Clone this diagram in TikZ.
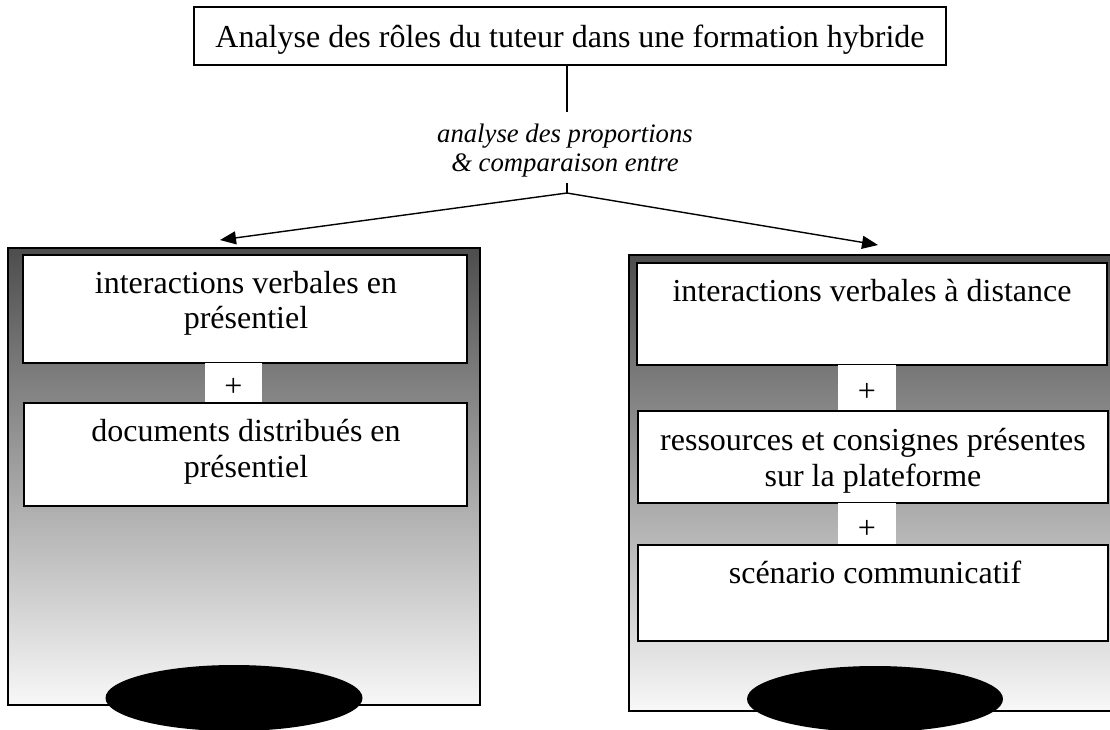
\documentclass[tikz,border=0pt]{standalone}
\usepackage{fontspec}
\setmainfont{Liberation Serif}
\usetikzlibrary{arrows.meta,shapes.geometric}
\definecolor{ptop}{RGB}{77,77,77}
\definecolor{pbot}{RGB}{248,248,248}
\tikzset{
  box/.style={draw=black, line width=1.6pt, fill=white, inner sep=0pt},
  txt/.style={anchor=base, inner sep=0pt, font=\fontsize{32}{36}\selectfont},
  itxt/.style={anchor=base, inner sep=0pt, font=\fontsize{26.7}{29}\selectfont\itshape},
  panel/.style={draw=black, line width=2pt, inner sep=0pt, top color=ptop, bottom color=pbot},
  plusbox/.style={fill=white, inner sep=0pt, font=\fontsize{32}{36}\selectfont},
  blob/.style={ellipse, fill=black, inner sep=0pt},
  conn/.style={line width=1.4pt},
  arr/.style={line width=1.4pt, -{Triangle[length=16pt,width=13pt]}}
}
\begin{document}
\begin{tikzpicture}[x=1pt,y=-1pt]
\clip (0,0) rectangle (1110,729);
\useasboundingbox (0,0) rectangle (1110,729);
\fill[white] (0,0) rectangle (1110,729);

% title
\node[box, minimum width=752pt, minimum height=58pt] (title) at (570,36) {};
\node[txt] (titlet) at (570,47) {Analyse des rôles du tuteur dans une formation hybride};

% connector label
\coordinate (vtop) at (567,112);
\draw[conn] (vtop |- title.south) -- (vtop);
\node[itxt] (lab1) at (565,142) {analyse des proportions};
\node[itxt] (lab2) at (565,171) {\& comparaison entre};
\coordinate (forktop) at (567,183);
\coordinate (fork) at (567,193);
\coordinate (ltip) at (220,240);
\coordinate (rtip) at (878,245);
\draw[conn] (forktop) -- (fork);
\draw[arr] (fork) -- (ltip);
\draw[arr] (fork) -- (rtip);

% left panel
\node[panel, minimum width=472pt, minimum height=457pt] (lpanel) at (244,476.5) {};
\node[box, minimum width=444pt, minimum height=108pt] (lb1) at (245,309) {};
\node[txt] (lb1a) at (246,293) {interactions verbales en};
\node[txt] (lb1b) at (246,328) {présentiel};
\node[plusbox, minimum width=57pt, minimum height=40pt] (lp1) at (233.5,383) {};
\node[plusbox] (lp1t) at (233.5,387) {+};
\node[box, minimum width=443pt, minimum height=103pt] (lb2) at (245.5,454.5) {};
\node[txt] (lb2a) at (246,441) {documents distribués en};
\node[txt] (lb2b) at (246,477) {présentiel};
\node[blob, minimum width=257pt, minimum height=66pt] (lblob) at (234,698) {};

% right panel
\node[panel, minimum width=496pt, minimum height=456pt] (rpanel) at (877,483) {};
\node[box, minimum width=470pt, minimum height=102pt] (rb1) at (872,314) {};
\node[txt] (rb1a) at (872,301) {interactions verbales à distance};
\node[plusbox, minimum width=58pt, minimum height=45pt] (rp1) at (867,387.5) {};
\node[plusbox] (rp1t) at (867,392) {+};
\node[box, minimum width=470pt, minimum height=92pt] (rb2) at (873,457) {};
\node[txt] (rb2a) at (873,450) {ressources et consignes présentes};
\node[txt] (rb2b) at (873,486) {sur la plateforme};
\node[plusbox, minimum width=58pt, minimum height=42pt] (rp2) at (867,524) {};
\node[plusbox] (rp2t) at (867,529) {+};
\node[box, minimum width=470pt, minimum height=96pt] (rb3) at (873,593) {};
\node[txt] (rb3a) at (875,583) {scénario communicatif};
\node[blob, minimum width=256pt, minimum height=66pt] (rblob) at (875,699) {};
\end{tikzpicture}
\end{document}
